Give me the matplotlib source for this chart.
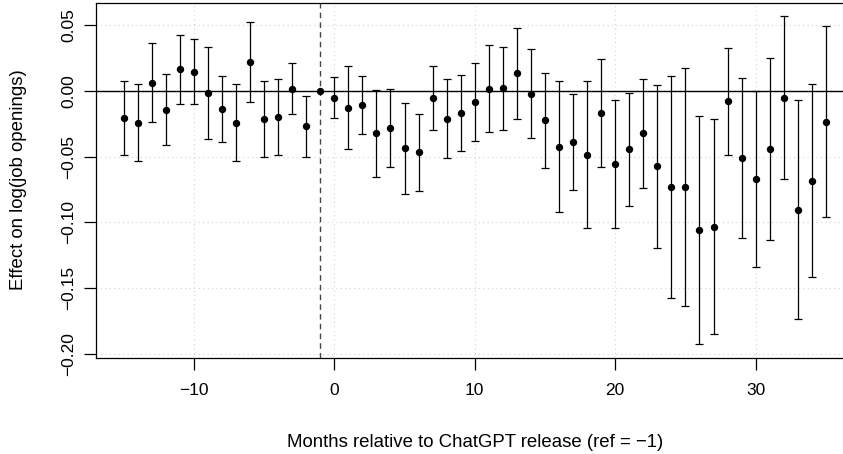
import numpy as np
import matplotlib
matplotlib.use("Agg")
import matplotlib.pyplot as plt

# event-study estimates
months = list(range(-15, 36))
est = [-0.0208, -0.0243, 0.0061, -0.0144, 0.0162, 0.0144, -0.0018, -0.0142, -0.0243, 0.0215,
       -0.0218, -0.0200, 0.0015, -0.0271, 0.0, -0.0053, -0.0129, -0.0106, -0.0324, -0.0286,
       -0.0436, -0.0469, -0.0056, -0.0213, -0.0170, -0.0089, 0.0015, 0.0018, 0.0132, -0.0023,
       -0.0225, -0.0426, -0.0390, -0.0489, -0.0170, -0.0560, -0.0446, -0.0322, -0.0575, -0.0732,
       -0.0732, -0.1061, -0.1033, -0.0081, -0.0514, -0.0671, -0.0446, -0.0056, -0.0907, -0.0684,
       -0.0236]
ci_hi = [0.0071, 0.0048, 0.0360, 0.0124, 0.0426, 0.0390, 0.0332, 0.0109, 0.0048, 0.0519,
         0.0071, 0.0086, 0.0210, -0.0040, np.nan, 0.0104, 0.0185, 0.0114, 0.0005, 0.0013,
         -0.0091, -0.0175, 0.0190, 0.0089, 0.0119, 0.0210, 0.0344, 0.0334, 0.0479, 0.0317,
         0.0134, 0.0071, -0.0023, 0.0071, 0.0238, -0.0074, -0.0015, 0.0091, 0.0043, 0.0114,
         0.0170, -0.0193, -0.0216, 0.0324, 0.0094, 0.0000, 0.0248, 0.0567, -0.0074, 0.0048,
         0.0491]
ci_lo = [-0.0489, -0.0534, -0.0238, -0.0413, -0.0099, -0.0101, -0.0365, -0.0390, -0.0534, -0.0089,
         -0.0504, -0.0489, -0.0177, -0.0504, np.nan, -0.0205, -0.0443, -0.0327, -0.0653, -0.0583,
         -0.0783, -0.0763, -0.0301, -0.0514, -0.0456, -0.0385, -0.0314, -0.0301, -0.0218, -0.0362,
         -0.0588, -0.0919, -0.0758, -0.1046, -0.0578, -0.1043, -0.0876, -0.0737, -0.1193, -0.1578,
         -0.1634, -0.1928, -0.1849, -0.0491, -0.1122, -0.1340, -0.1135, -0.0671, -0.1738, -0.1413,
         -0.0960]
ref_month = -1
xticks = [-10, 0, 10, 20, 30]
yticks = [-0.20, -0.15, -0.10, -0.05, 0.00, 0.05]

plt.rcParams['font.family'] = ['Liberation Sans', 'DejaVu Sans']
plt.rcParams['font.size'] = 12.5

x = np.array(months)
y = np.array(est)
lo = np.array(ci_lo)
hi = np.array(ci_hi)

fig = plt.figure(figsize=(8.43, 4.54), dpi=100)
# R-style plot region; right side runs past the crop like the reference
ax = fig.add_axes([95.5 / 843, 96.5 / 454, 758.5 / 843, 354.5 / 454])

# R pads the data range by 4%
allv = np.concatenate([y, lo[~np.isnan(lo)], hi[~np.isnan(hi)]])
yr = allv.max() - allv.min()
ax.set_ylim(allv.min() - 0.04 * yr, allv.max() + 0.04 * yr)
xr = x.max() - x.min()
ax.set_xlim(x.min() - 0.04 * xr, x.max() + 0.04 * xr)

for v in xticks:
    ax.axvline(v, color='#d3d3d3', lw=0.8, ls=(0, (1, 3)), zorder=0)
for v in yticks:
    ax.axhline(v, color='#d3d3d3', lw=0.8, ls=(0, (1, 3)), zorder=0)

ax.axhline(0, color='black', lw=1.0, zorder=1)
ax.axvline(ref_month, color='#444444', lw=1.0, ls=(0, (4, 3)), zorder=1)

ok = ~np.isnan(lo)
ax.errorbar(x[ok], y[ok], yerr=[y[ok] - lo[ok], hi[ok] - y[ok]], fmt='none',
            ecolor='black', elinewidth=0.9, capsize=2.6, capthick=0.9, zorder=2)
ax.plot(x, y, 'o', color='black', ms=4.3, zorder=3)

ax.set_xticks(xticks)
ax.set_xticklabels([str(v).replace('-', '\u2212') for v in xticks])
ax.set_yticks(yticks)
ax.set_yticklabels([('%.2f' % v).replace('-', '\u2212') for v in yticks],
                   rotation=90, va='center')
ax.tick_params(direction='out', length=8.5, width=0.9, colors='black')
ax.tick_params(axis='x', pad=10)
ax.tick_params(axis='y', pad=5.5)
for s in ax.spines.values():
    s.set_linewidth(0.9)

ax.set_xlabel('Months relative to ChatGPT release (ref = \u22121)', fontsize=13.4, va='baseline')
ax.xaxis.set_label_coords(0.5 * (95.5 + 854) / 843, (454 - 447) / 454, transform=fig.transFigure)
ax.set_ylabel('Effect on log(job openings)', fontsize=13.4, va='center')
ax.yaxis.set_label_coords(19 / 843, (454 - 180) / 454, transform=fig.transFigure)

fig.savefig('out.png', dpi=100)
